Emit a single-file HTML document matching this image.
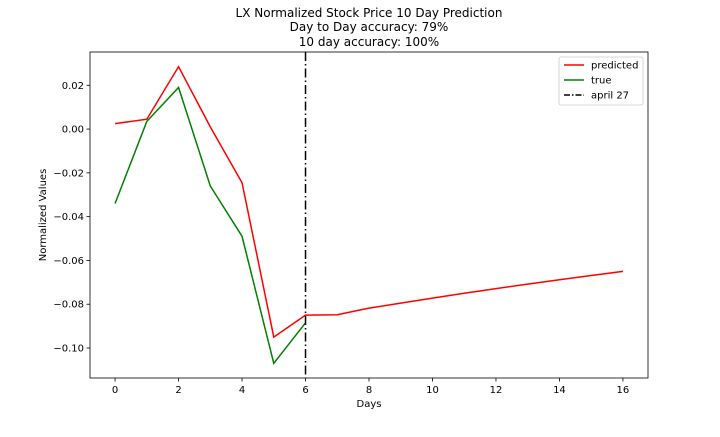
<!DOCTYPE html>
<html><head><meta charset="utf-8"><style>
body{margin:0;background:#fff;font-family:"Liberation Sans","DejaVu Sans",sans-serif}
svg text{font-family:"DejaVu Sans","Liberation Sans",sans-serif}
</style></head><body>
<svg id="chart" width="720" height="432" xmlns="http://www.w3.org/2000/svg"></svg>
<script>
const days=[0,1,2,3,4,5,6,7,8,9,10,11,12,13,14,15,16];
const predicted=[0.0025,0.0045,0.0285,0.001,-0.0245,-0.095,-0.085,-0.0848,-0.0818,-0.0795,-0.0772,-0.075,-0.0729,-0.0708,-0.0688,-0.0669,-0.065];
const trueDays=[0,1,2,3,4,5,6];
const trueVals=[-0.034,0.0035,0.019,-0.026,-0.049,-0.107,-0.0885];
const xTicks=[0,2,4,6,8,10,12,14,16];
const yTicks=[0.02,0.00,-0.02,-0.04,-0.06,-0.08,-0.10];
const yTickLabels=["0.02","0.00","−0.02","−0.04","−0.06","−0.08","−0.10"];
const marker=6;
const L=90,R=648,T=52,B=378;
const xmin=-0.79,xmax=16.79,ymin=-0.1137,ymax=0.0352;
const sx=v=>L+(v-xmin)/(xmax-xmin)*(R-L);
const sy=v=>B-(v-ymin)/(ymax-ymin)*(B-T);
const svg=document.getElementById('chart');
const NS='http://www.w3.org/2000/svg';
function el(tag,attrs,parent){const e=document.createElementNS(NS,tag);for(const k in attrs)e.setAttribute(k,attrs[k]);(parent||svg).appendChild(e);return e;}
function txt(s,attrs){const t=el('text',attrs);t.textContent=s;return t;}
// titles
let t;
t=txt('LX Normalized Stock Price 10 Day Prediction',{x:369,y:17,'text-anchor':'middle','font-size':12});

t=txt('Day to Day accuracy: 79%',{x:369,y:31,'text-anchor':'middle','font-size':12});

t=txt('10 day accuracy: 100%',{x:369,y:46,'text-anchor':'middle','font-size':12});

// ticks
xTicks.forEach(v=>{
  const l=el('line',{x1:sx(v),x2:sx(v),y1:B,y2:B+3.5,stroke:'#000','stroke-width':0.8});
  
  const tt=txt(String(v),{x:sx(v),y:B+15,'text-anchor':'middle','font-size':10});
  
});
yTicks.forEach((v,i)=>{
  const l=el('line',{x1:L-3.5,x2:L,y1:sy(v),y2:sy(v),stroke:'#000','stroke-width':0.8});
  
  const tt=txt(yTickLabels[i],{x:L-6,y:sy(v)+3.5,'text-anchor':'end','font-size':10});
  
});
t=txt('Days',{x:(L+R)/2,y:407,'text-anchor':'middle','font-size':10});

t=txt('Normalized Values',{x:0,y:0,'text-anchor':'middle','font-size':10,transform:`translate(46,${(T+B)/2}) rotate(-90)`});

// series
const pts=(xs,ys)=>xs.map((x,i)=>sx(x)+','+sy(ys[i])).join(' ');
let p=el('polyline',{points:pts(days,predicted),fill:'none',stroke:'#ff0000','stroke-width':1.5});

p=el('polyline',{points:pts(trueDays,trueVals),fill:'none',stroke:'#008000','stroke-width':1.5});

p=el('line',{x1:sx(marker),x2:sx(marker),y1:T,y2:B,stroke:'#000','stroke-width':1.5,'stroke-dasharray':'9,3,1.5,3'});

// frame
p=el('rect',{x:L,y:T,width:R-L,height:B-T,fill:'none',stroke:'#000','stroke-width':0.8});

// legend
const g=el('g',{});

el('rect',{x:559,y:57,width:84,height:48,rx:2,fill:'#fff',stroke:'#ccc','stroke-width':0.8},g);
const items=[['predicted','#ff0000',null],['true','#008000',null],['april 27','#000','6,2,1.5,2']];
items.forEach((it,i)=>{
  const y=65+i*15;
  const a={x1:564,x2:584,y1:y,y2:y,stroke:it[1],'stroke-width':1.5};
  if(it[2])a['stroke-dasharray']=it[2];
  el('line',a,g);
  const tx=el('text',{x:591,y:y+3.5,'font-size':10},g);tx.textContent=it[0];
  
});
</script>
</body></html>
